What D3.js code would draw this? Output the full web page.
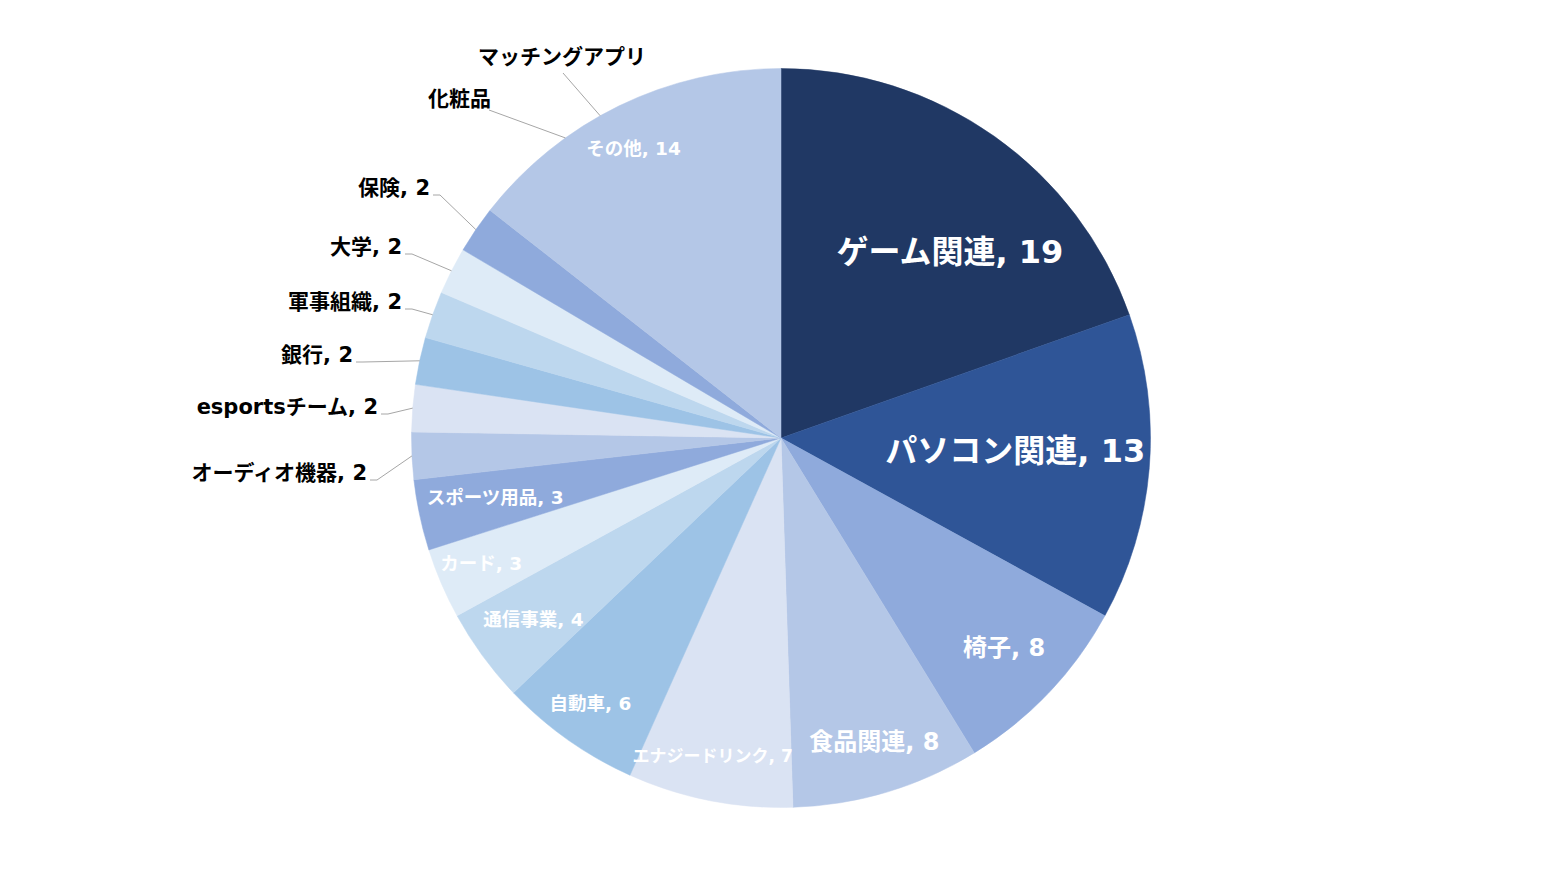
<!DOCTYPE html>
<html>
<head>
<meta charset="utf-8">
<script src="https://cdn.jsdelivr.net/npm/d3@7"></script>
<style>
  html, body { margin: 0; padding: 0; background: #ffffff; }
  svg { display: block; }
  text { font-family: "DejaVu Sans", "Noto Sans CJK JP", sans-serif; font-weight: 700; }
</style>
</head>
<body>
<svg id="chart" width="1561" height="876"></svg>
<script>
// chart data
let categories = ['ゲーム関連', 'パソコン関連', '椅子', '食品関連', 'エナジードリンク', '自動車', '通信事業',
    'カード', 'スポーツ用品', 'オーディオ機器', 'esportsチーム', '銀行', '軍事組織', '大学', '保険',
    'マッチングアプリ', '化粧品', 'その他']
let counts = [19, 13, 8, 8, 7, 6, 4, 3, 3, 2, 2, 2, 2, 2, 2, 0, 0, 14]
let sliceColors = ['#203864', '#2F5597', '#8FAADC', '#B4C7E7', '#DAE3F3', '#9DC3E6', '#BDD7EE',
    '#DEEBF7', '#8FAADC', '#B4C7E7', '#DAE3F3', '#9DC3E6', '#BDD7EE', '#DEEBF7', '#8FAADC',
    '#B4C7E7', '#DAE3F3', '#B4C7E7']

// label placement (inside: radius factor + angle shift in degrees, outside: offset from pie centre)
let insideLabels = {
    'ゲーム関連': { r: 0.68, da: 7, size: 32 },
    'パソコン関連': { r: 0.635, da: -1.4, size: 32 },
    '椅子': { r: 0.83, da: -0.3, size: 24 },
    '食品関連': { r: 0.86, da: -0.4, size: 24 },
    'エナジードリンク': { r: 0.88, da: 1, size: 17 },
    '自動車': { r: 0.885, da: 0.4, size: 18.5 },
    '通信事業': { r: 0.83, da: 0, size: 18.5 },
    'カード': { r: 0.88, da: 0.4, size: 18.5 },
    'スポーツ用品': { r: 0.79, da: 0.4, size: 18.5 },
    'その他': { r: 0.88, da: -1, size: 18.5 }
}
let outsideLabels = {
    'オーディオ機器': { dx: -414, dy: 35, anchor: 'end' },
    'esportsチーム': { dx: -403, dy: -31, anchor: 'end' },
    '銀行': { dx: -428, dy: -83, anchor: 'end' },
    '軍事組織': { dx: -379, dy: -136, anchor: 'end' },
    '大学': { dx: -379, dy: -191, anchor: 'end' },
    '保険': { dx: -351, dy: -250, anchor: 'end' },
    'マッチングアプリ': { dx: -219, dy: -381, anchor: 'middle', sx: 1, sy: 16, aim: 330.7 },
    '化粧品': { dx: -290, dy: -339, anchor: 'end', sx: -2, sy: 11, aim: 324.3 }
}

let cx = 781
let cy = 438
let radius = 369.5

let svg = d3.select('#chart')
let g = svg.append('g').attr('transform', 'translate(' + cx + ',' + cy + ')')

let rows = categories.map((c, i) => ({ name: c, value: counts[i], color: sliceColors[i] }))

let pie = d3.pie().sort(null).value((d) => d.value)
let arcs = pie(rows)

let arc = d3.arc().innerRadius(0).outerRadius(radius)

g.selectAll('path.slice')
    .data(arcs.filter((d) => d.data.value > 0))
    .enter()
    .append('path')
    .attr('class', 'slice')
    .attr('d', arc)
    .attr('fill', (d) => d.data.color)
    .attr('stroke', (d) => d.data.color)
    .attr('stroke-width', 0.5)

let polar = (angleDeg, r) => {
    let a = angleDeg * Math.PI / 180
    return [r * Math.sin(a), -r * Math.cos(a)]
}
let midDeg = (d) => ((d.startAngle + d.endAngle) / 2) * 180 / Math.PI

let labelText = (d) => d.data.value > 0 ? d.data.name + ', ' + d.data.value : d.data.name

// labels inside the slices
arcs.filter((d) => insideLabels[d.data.name]).forEach((d) => {
    let L = insideLabels[d.data.name]
    let p = polar(midDeg(d) + L.da, radius * L.r)
    g.append('text')
        .attr('x', p[0])
        .attr('y', p[1])
        .attr('text-anchor', 'middle')
        .attr('dominant-baseline', 'central')
        .attr('fill', '#ffffff')
        .style('font-size', L.size + 'px')
        .text(labelText(d))
})

// labels outside with leader lines
arcs.filter((d) => outsideLabels[d.data.name]).forEach((d) => {
    let L = outsideLabels[d.data.name]
    let target = polar(L.aim !== undefined ? L.aim : midDeg(d), radius)
    let pts
    if (L.sx !== undefined) {
        pts = [[L.dx + L.sx, L.dy + L.sy], target]
    } else {
        pts = [[L.dx + 3, L.dy + 7], [L.dx + 10, L.dy + 7], target]
    }
    g.append('path')
        .attr('d', d3.line()(pts))
        .attr('fill', 'none')
        .attr('stroke', '#A6A6A6')
        .attr('stroke-width', 1)

    g.append('text')
        .attr('x', L.dx)
        .attr('y', L.dy)
        .attr('text-anchor', L.anchor)
        .attr('dominant-baseline', 'central')
        .attr('fill', '#000000')
        .style('font-size', '21px')
        .text(labelText(d))
})
</script>
</body>
</html>
